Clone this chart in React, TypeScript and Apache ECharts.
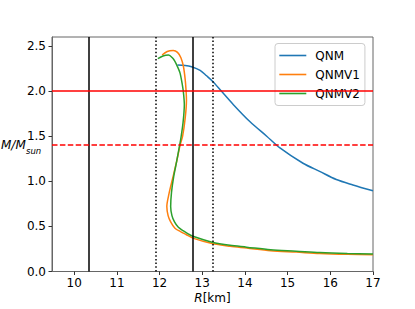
import React, { useEffect, useRef } from "react";
import * as echarts from "echarts";

// ---- data ----
const seriesNames = ["QNM", "QNMV1", "QNMV2"];
const colors = ["#1f77b4", "#ff7f0e", "#2ca02c"];

const qnmR = [12.42, 12.6, 12.75, 12.95, 13.1, 13.24, 13.43, 13.73, 14.12, 14.51, 14.82, 15.36, 15.75, 16.14, 16.53, 17.0];
const qnmM = [2.29, 2.285, 2.27, 2.23, 2.17, 2.11, 2.01, 1.85, 1.66, 1.5, 1.37, 1.2, 1.11, 1.02, 0.96, 0.895];

const v1R = [12.06, 12.18, 12.32, 12.42, 12.5, 12.56, 12.6, 12.62, 12.63, 12.6, 12.54, 12.48, 12.4, 12.3, 12.22, 12.17, 12.2, 12.26, 12.36, 12.5, 12.62, 12.78, 13.23, 13.65, 14.04, 14.6, 15.2, 15.75, 16.4, 17.0];
const v1M = [2.4, 2.44, 2.45, 2.43, 2.37, 2.27, 2.13, 2.01, 1.9, 1.7, 1.5, 1.4, 1.22, 1.02, 0.86, 0.72, 0.62, 0.55, 0.48, 0.44, 0.41, 0.37, 0.31, 0.28, 0.26, 0.23, 0.215, 0.2, 0.19, 0.185];

const v2R = [11.96, 12.08, 12.21, 12.3, 12.36, 12.43, 12.48, 12.53, 12.56, 12.58, 12.55, 12.5, 12.47, 12.4, 12.33, 12.28, 12.26, 12.29, 12.35, 12.44, 12.56, 12.66, 12.78, 13.23, 13.65, 14.04, 14.6, 15.2, 15.75, 16.4, 17.0];
const v2M = [2.36, 2.39, 2.4, 2.37, 2.33, 2.26, 2.2, 2.08, 1.98, 1.85, 1.65, 1.48, 1.4, 1.22, 1.05, 0.88, 0.72, 0.62, 0.55, 0.49, 0.45, 0.42, 0.39, 0.325, 0.29, 0.27, 0.24, 0.225, 0.21, 0.2, 0.195];

const vSolid = [10.33, 12.77];
const vDotted = [11.9, 13.24];
const hSolid = [2.0];
const hDashed = [1.4];

const xTicks = [10, 11, 12, 13, 14, 15, 16, 17];
const yTicks = [0, 0.5, 1.0, 1.5, 2.0, 2.5];
const xRange = [9.48, 17];
const yRange = [0, 2.6];

const FONT = "DejaVu Sans";

export default function App() {
  const ref = useRef<HTMLDivElement>(null);
  useEffect(() => {
    document.body.style.margin = "0";
    if (!ref.current) return;
    const chart = echarts.init(ref.current, null, { renderer: "svg" });
    const pairs = (r: number[], m: number[]) => r.map((x, i) => [x, m[i]]);
    const curves = [pairs(qnmR, qnmM), pairs(v1R, v1M), pairs(v2R, v2M)];
    const refLine = (name: string, data: any[], color: string, type: any) => ({
      name,
      type: "line",
      data: [],
      silent: true,
      z: 1,
      markLine: {
        silent: true,
        symbol: "none",
        label: { show: false },
        lineStyle: { color, width: 1.5, type },
        data,
        animation: false,
      },
    });
    chart.setOption({
      animation: false,
      grid: {
        left: 52,
        right: 42,
        top: 37,
        bottom: 37.5,
        show: true,
        borderColor: "#666",
        borderWidth: 1,
        backgroundColor: "transparent",
      },
      xAxis: {
        type: "value",
        min: xRange[0],
        max: xRange[1],
        splitLine: { show: false },
        axisLine: { onZero: false, lineStyle: { color: "#666", width: 1 } },
        axisTick: { show: true, length: 3.5, lineStyle: { color: "#333" }, customValues: xTicks },
        axisLabel: { customValues: xTicks, color: "#000", fontSize: 12, fontFamily: FONT, margin: 5 },
      },
      yAxis: {
        type: "value",
        min: yRange[0],
        max: yRange[1],
        splitLine: { show: false },
        axisLine: { show: true, onZero: false, lineStyle: { color: "#666", width: 1 } },
        axisTick: { show: true, length: 3.5, lineStyle: { color: "#333" }, customValues: yTicks },
        axisLabel: {
          customValues: yTicks,
          color: "#000",
          fontSize: 12,
          fontFamily: FONT,
          margin: 6,
          formatter: (v: number) => v.toFixed(1),
        },
      },
      legend: {
        data: seriesNames,
        orient: "vertical",
        left: 275,
        top: 43.5,
        icon: "rect",
        itemWidth: 27,
        itemHeight: 1.6,
        itemGap: 5,
        padding: [5, 5, 5, 4.3],
        backgroundColor: "rgba(255,255,255,0.8)",
        borderColor: "#cccccc",
        borderWidth: 1,
        borderRadius: 3,
        textStyle: { fontSize: 12, fontFamily: FONT, color: "#000", padding: [0, 0, 0, 4], lineHeight: 14 },
      },
      graphic: [
        { type: "text", left: 1, top: 139, style: { text: "M/M", font: `italic 12px '${FONT}'`, fill: "#000" } },
        { type: "text", left: 26, top: 146, style: { text: "sun", font: `italic 8.5px '${FONT}'`, fill: "#000" } },
        {
          type: "text",
          x: 212.5,
          y: 298,
          style: {
            text: "{i|R}[km]",
            font: `12px '${FONT}'`,
            fill: "#000",
            align: "center",
            verticalAlign: "middle",
            rich: { i: { fontStyle: "italic", fontSize: 12, fontFamily: FONT } },
          },
        },
      ],
      series: [
        refLine("vs", vSolid.map((v) => ({ xAxis: v })), "#000", "solid"),
        refLine("vd", vDotted.map((v) => ({ xAxis: v })), "#000", [1.5, 2.2]),
        refLine("hs", hSolid.map((v) => ({ yAxis: v })), "#ff0000", "solid"),
        refLine("hd", hDashed.map((v) => ({ yAxis: v })), "#ff0000", [5.5, 2.4]),
        ...seriesNames.map((name, i) => ({
          name,
          type: "line",
          data: curves[i],
          symbol: "none",
          showSymbol: false,
          smooth: 0.3,
          z: 3,
          lineStyle: { color: colors[i], width: 1.5 },
          itemStyle: { color: colors[i] },
          clip: true,
        })),
      ],
    });
    return () => chart.dispose();
  }, []);
  return <div ref={ref} style={{ width: 415, height: 309 }} />;
}
